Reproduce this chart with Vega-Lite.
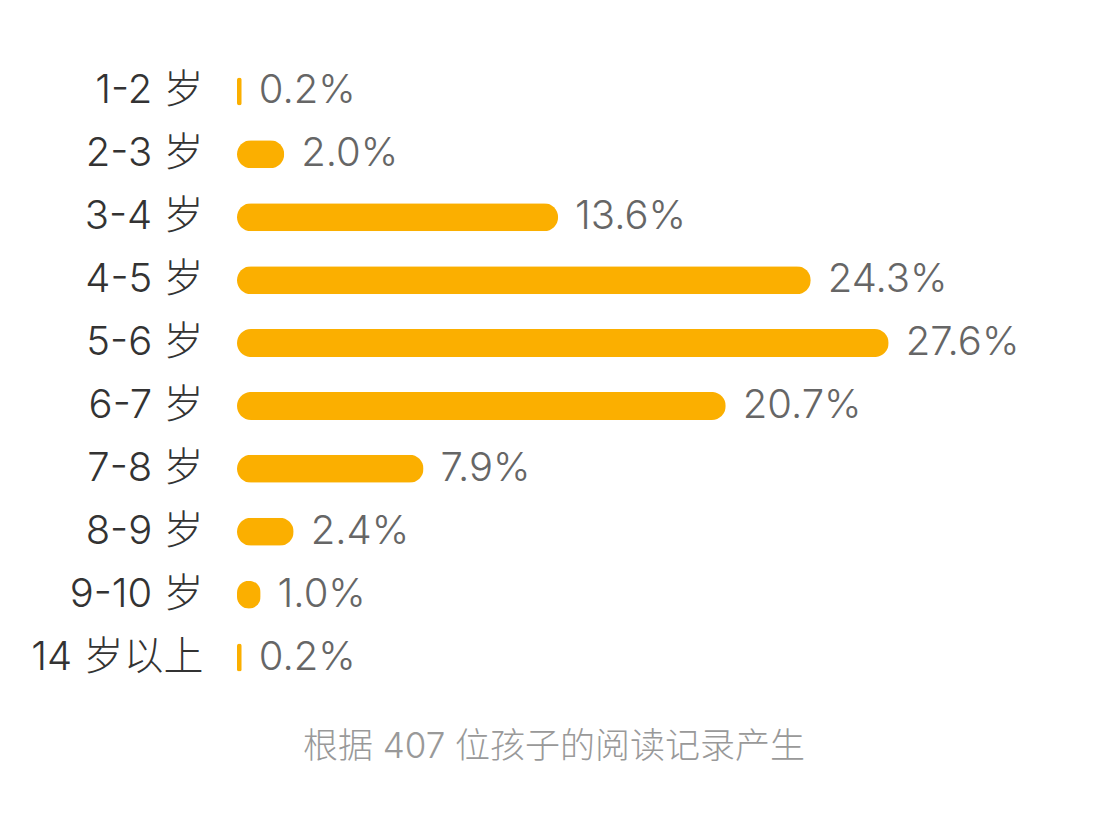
{
  "$schema": "https://vega.github.io/schema/vega-lite/v6.json",
  "autosize": "none",
  "width": 850,
  "height": 629,
  "padding": {"left": 237, "top": 60, "right": 32, "bottom": 142},
  "background": "white",
  "config": {"view": {"stroke": null}, "font": "Inter, Noto Sans CJK SC"},
  "title": {
    "text": "根据 407 位孩子的阅读记录产生",
    "orient": "bottom",
    "anchor": "middle",
    "frame": "group",
    "dx": -108,
    "offset": 41,
    "fontSize": 35,
    "fontWeight": 300,
    "color": "#999999",
    "font": "Inter, Noto Sans CJK SC"
  },
  "data": {
    "values": [
      {"age": "1-2 岁", "share": 0.002},
      {"age": "2-3 岁", "share": 0.020},
      {"age": "3-4 岁", "share": 0.136},
      {"age": "4-5 岁", "share": 0.243},
      {"age": "5-6 岁", "share": 0.276},
      {"age": "6-7 岁", "share": 0.207},
      {"age": "7-8 岁", "share": 0.079},
      {"age": "8-9 岁", "share": 0.024},
      {"age": "9-10 岁", "share": 0.010},
      {"age": "14 岁以上", "share": 0.002}
    ]
  },
  "encoding": {
    "y": {
      "field": "age",
      "type": "nominal",
      "sort": null,
      "scale": {"paddingInner": 0, "paddingOuter": 0},
      "axis": {
        "title": null,
        "domain": false,
        "ticks": false,
        "labelPadding": 34,
        "labelFontSize": 40,
        "labelColor": "#333333",
        "labelFont": "Inter, Noto Sans CJK SC",
        "labelFontWeight": 300
      }
    },
    "x": {
      "field": "share",
      "type": "quantitative",
      "scale": {"domain": [0, 0.36], "nice": false},
      "axis": null
    }
  },
  "layer": [
    {
      "mark": {"type": "bar", "size": 28, "cornerRadius": 14, "color": "#FBAF00"}
    },
    {
      "mark": {"type": "text", "align": "left", "baseline": "middle", "dx": 17, "fontSize": 40, "fontWeight": 300, "color": "#666666", "font": "Inter, Noto Sans CJK SC"},
      "encoding": {"text": {"field": "share", "type": "quantitative", "format": ".1%"}}
    }
  ]
}
